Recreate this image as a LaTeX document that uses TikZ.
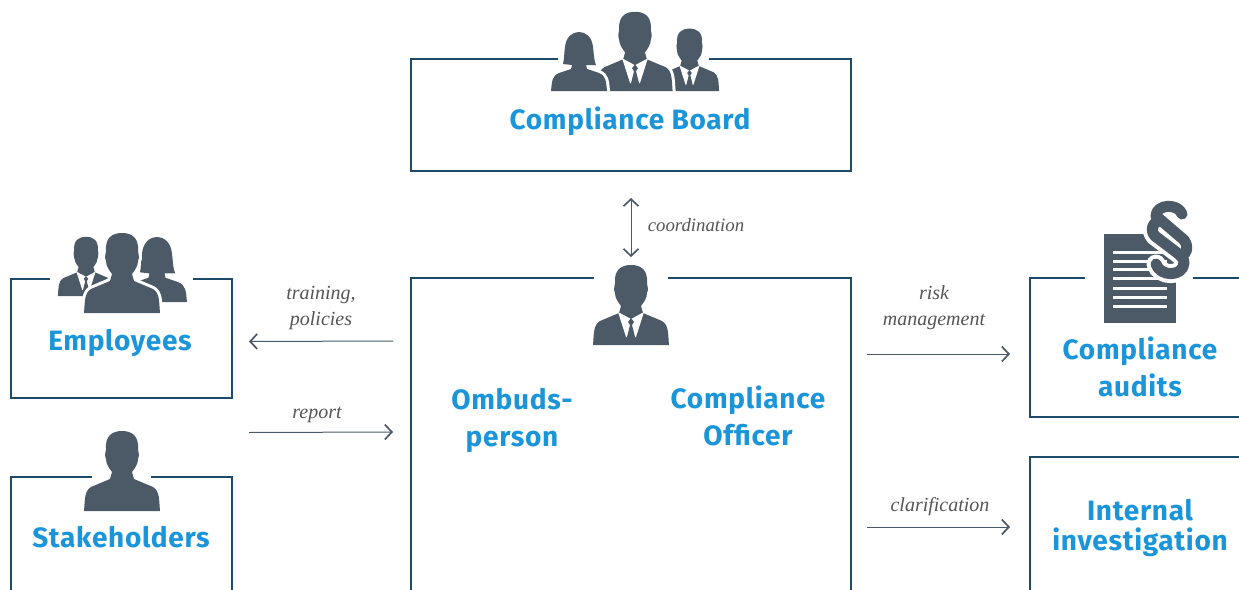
\documentclass[tikz,border=0pt]{standalone}
\usepackage{fontspec}
\setmainfont{Liberation Serif}
\newfontfamily\headfont[BoldFont={Fira Sans Bold},LetterSpace=2.5]{Fira Sans}
\usetikzlibrary{arrows.meta}
\definecolor{icon}{HTML}{4B5A66}
\definecolor{frame}{HTML}{1B4A6B}
\definecolor{head}{HTML}{1B95D9}
\definecolor{lab}{HTML}{555555}
\newcommand{\manpath}{\path[fig] (-38,0) .. controls (-37,-10) and (-38,-20) .. (-31,-24)
      -- (-12,-32) -- (-10,-39) .. controls (-13,-43) and (-16,-47) .. (-16,-52)
      .. controls (-18,-56) and (-16,-59) .. (-16,-62)
      .. controls (-17,-75) and (-10,-80) .. (0,-80)
      .. controls (10,-80) and (17,-75) .. (16,-62)
      .. controls (16,-59) and (18,-56) .. (16,-52)
      .. controls (16,-47) and (13,-43) .. (10,-39) -- (12,-32) -- (31,-24)
      .. controls (38,-20) and (37,-10) .. (38,0) -- cycle;}
\tikzset{
  x=1pt,y=-1pt,
  fig/.style={fill=icon,draw=none},
  halofig/.style={fig/.append style={preaction={draw=white,line width=6pt,line join=round}}},
  boxA/.style={draw=frame,line width=2pt,fill=none,outer sep=0pt,inner sep=0pt},
  boxB/.style={draw=frame,line width=1.4pt,fill=none,outer sep=0pt,inner sep=0pt},
  gap/.style={fill=white,draw=none},
  title/.style={font=\headfont\bfseries\fontsize{28}{37}\selectfont,text=head,align=center,inner sep=0pt},
  note/.style={font=\itshape\fontsize{20}{26}\selectfont,text=lab,align=center,inner sep=0pt},
  tip/.style={},
  arr/.style={draw=icon,line width=1pt,-{Straight Barb[length=7pt,width=15pt,line width=1.7pt]}},
  darr/.style={draw=icon,line width=1pt,{Straight Barb[length=7pt,width=15pt,line width=1.7pt]}-{Straight Barb[length=7pt,width=15pt,line width=1.7pt]}},
  pics/manbody/.style={code={\manpath}},
  pics/suitman/.style={code={
    \manpath
    \fill[white] (-13,-33) -- (-5,-8) -- (5,-8) -- (13,-33) -- (0,-26) -- cycle;
    \fill[icon] (0,-27) -- (3,-23) -- (1,-20) -- (4,-8) -- (0,-5) -- (-4,-8) -- (-1,-20) -- (-3,-23) -- cycle;
  }},
  pics/woman/.style={code={
    \path[fig] (-28,0) .. controls (-27,-10) and (-27,-15) .. (-20,-18)
      -- (-8,-22) -- (-7,-26) -- (-16,-27) .. controls (-15,-30) and (-15,-36) .. (-14,-44)
      .. controls (-13,-54) and (-7,-59) .. (0,-59)
      .. controls (7,-59) and (13,-54) .. (14,-44)
      .. controls (15,-36) and (15,-30) .. (17,-26) -- (7,-26) -- (8,-22) -- (20,-18)
      .. controls (27,-15) and (27,-10) .. (28,0) -- cycle;
  }}
}
\begin{document}
\begin{tikzpicture}
\useasboundingbox (0,0) rectangle (1239,589);
\clip (0,0) rectangle (1239,589);
% frames
\node[boxA,minimum width=440pt,minimum height=112pt] (board) at (631,115) {};
\node[boxA,minimum width=221pt,minimum height=119pt] (emp) at (121.5,338) {};
\node[boxA,minimum width=221pt,minimum height=160pt] (stake) at (121.5,557) {};
\node[boxA,minimum width=440pt,minimum height=360pt] (main) at (631,458) {};
\node[boxB,minimum width=260pt,minimum height=139pt] (audit) at (1160,347.5) {};
\node[boxB,minimum width=260pt,minimum height=200pt] (invest) at (1160,557) {};
% gaps
\fill[gap] (558,55) rectangle (709,64);
\fill[gap] (50,274) rectangle (193,283);
\fill[gap] (92,473) rectangle (151,482);
\fill[gap] (594,274) rectangle (668,283);
\fill[gap] (1085,274) rectangle (1193,283);
% board icons
\pic[scale=0.78] at (689.5,91) {suitman};
\pic[scale=0.99,halofig] at (635,91) {suitman};
\pic[halofig] at (579,91) {woman};
% employee icons
\pic[scale=0.74] at (86,296) {suitman};
\pic[xscale=1.07,yscale=1.1] at (157,302) {woman};
\pic[halofig] at (122,313) {manbody};
% others
\pic at (122,511) {manbody};
\pic at (631,345) {suitman};
% document icon
\fill[icon] (1104,234) rectangle (1176,323);
\foreach \yy in {252,261,269,278,288,297,306}
  \fill[white] (1113,\yy-1.5) rectangle (1167,\yy+1.5);
\draw[white,line width=19pt,line cap=round] (1182,214) .. controls (1178,203) and (1156,204) .. (1156,216) -- (1184,240) .. controls (1189,247) and (1187,254) .. (1181,256);
\draw[white,line width=19pt,line cap=round] (1156,264) .. controls (1160,277) and (1183,277) .. (1184,263) .. controls (1184,258) and (1180,255) .. (1176,252) -- (1155,236) .. controls (1150,230) and (1152,224) .. (1158,221);
\draw[icon,line width=11pt,line cap=round,line join=round] (1182,214) .. controls (1178,203) and (1156,204) .. (1156,216) -- (1184,240) .. controls (1189,247) and (1187,254) .. (1181,256);
\draw[icon,line width=11pt,line cap=round,line join=round] (1156,264) .. controls (1160,277) and (1183,277) .. (1184,263) .. controls (1184,258) and (1180,255) .. (1176,252) -- (1155,236) .. controls (1150,230) and (1152,224) .. (1158,221);
% titles
\node[title] (tboard) at (630,121) {Compliance Board};
\node[title] (temp) at (120,343) {Employees};
\node[title] (tstake) at (121,537) {Stakeholders};
\node[title] (tomb) at (512,420) {Ombuds-\\person};
\node[title] (tcomp) at (748,416) {Compliance\\Officer};
\node[title] (taudit) at (1140,367) {Compliance\\audits};
\node[title,font=\headfont\bfseries\fontsize{28}{30}\selectfont] (tinv) at (1140,528) {Internal\\investigation};
% connectors
\coordinate (c1) at ([shift={(0,27)}]board.south);
\coordinate (c2) at ([shift={(0,-21)}]main.north);
\coordinate (t1) at ([shift={(-18,63)}]main.north west);
\coordinate (t2) at ([shift={(17,63)}]emp.north east);
\coordinate (r1) at ([shift={(17,35)}]emp.south east);
\coordinate (r2) at ([shift={(-18,154)}]main.north west);
\coordinate (k1) at ([shift={(16,76)}]main.north east);
\coordinate (k2) at ([shift={(-20,76)}]audit.north west);
\coordinate (q1) at ([shift={(16,249)}]main.north east);
\coordinate (q2) at ([shift={(-20,70)}]invest.north west);
\draw[darr] (c1) -- (c2);
\draw[arr] (t1) -- (t2);
\draw[arr] (r1) -- (r2);
\draw[arr] (k1) -- (k2);
\draw[arr] (q1) -- (q2);
% labels
\node[note,font=\itshape\fontsize{18.8}{26}\selectfont] (lc) at (696,225) {coordination};
\node[note] (lt) at (321,308) {training,\\policies};
\node[note] (lr) at (317,415) {report};
\node[note] (lk) at (934,308) {risk\\management};
\node[note] (lq) at (940,507) {clarification};
\end{tikzpicture}
\end{document}
